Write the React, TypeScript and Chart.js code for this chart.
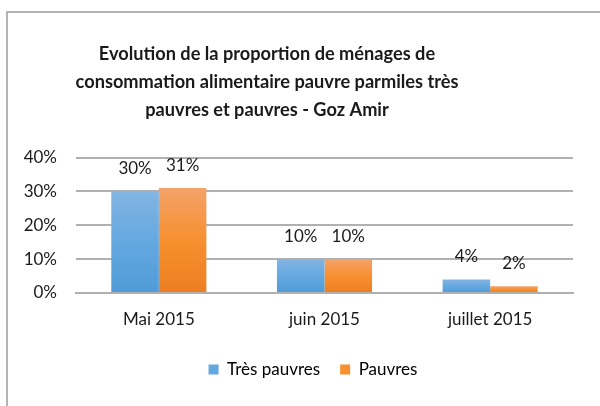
import React, { useEffect, useRef } from "react";
import { Chart, registerables } from "chart.js";

Chart.register(...registerables);

const categories = ["Mai 2015", "juin 2015", "juillet 2015"];
const tresPauvres = [30, 10, 4];
const pauvres = [31, 10, 2];
const yTicks = [0, 10, 20, 30, 40];
const titleLines = [
  "Evolution de la proportion de ménages de",
  "consommation alimentaire pauvre parmiles très",
  "pauvres et pauvres - Goz Amir",
];
const seriesNames = ["Très pauvres", "Pauvres"];

const FONT = "Lato, 'Open Sans', sans-serif";

function makeGradient(ctx: any, top: string, mid: string, bottom: string) {
  const chart = ctx.chart;
  const y = chart.scales?.y;
  if (!y || ctx.raw === undefined) return mid;
  const yTop = y.getPixelForValue(ctx.raw);
  const yBot = y.getPixelForValue(0);
  if (!isFinite(yTop) || !isFinite(yBot) || yTop === yBot) return mid;
  const g = chart.ctx.createLinearGradient(0, yTop, 0, yBot);
  g.addColorStop(0, top);
  g.addColorStop(0.5, mid);
  g.addColorStop(1, bottom);
  return g;
}

const borderPlugin = {
  id: "frame",
  afterLayout(chart: any) {
    if (chart.titleBlock) {
      chart.titleBlock.left = 0;
      chart.titleBlock.right = 534;
    }
    if (chart.legend) {
      chart.legend.left = 26;
      chart.legend.right = 600;
    }
  },
  beforeDraw(chart: any) {
    const c = chart.ctx;
    c.save();
    c.fillStyle = "#ffffff";
    c.fillRect(0, 0, chart.width, chart.height);
    c.strokeStyle = "#b4b4b4";
    c.lineWidth = 2;
    c.beginPath();
    c.moveTo(7, chart.height);
    c.lineTo(7, 12);
    c.lineTo(chart.width, 12);
    c.stroke();
    c.restore();
  },
};

const labelPlugin = {
  id: "valueLabels",
  afterDatasetsDraw(chart: any) {
    const c = chart.ctx;
    c.save();
    c.font = `17px ${FONT}`;
    c.fillStyle = "#1a1a1a";
    c.textAlign = "center";
    c.textBaseline = "middle";
    chart.data.datasets.forEach((ds: any, di: number) => {
      const meta = chart.getDatasetMeta(di);
      meta.data.forEach((bar: any, i: number) => {
        c.fillText(ds.data[i] + "%", bar.x, bar.y - 23);
      });
    });
    c.restore();
  },
};

export default function App() {
  const ref = useRef<HTMLCanvasElement>(null);
  useEffect(() => {
    document.body.style.margin = "0";
    const chart = new Chart(ref.current!, {
      type: "bar",
      data: {
        labels: categories,
        datasets: [
          {
            label: seriesNames[0],
            data: tresPauvres,
            backgroundColor: (ctx: any) => makeGradient(ctx, "#82b5e3", "#65a8e0", "#4f9bd8"),
            borderWidth: 0,
          },
          {
            label: seriesNames[1],
            data: pauvres,
            backgroundColor: (ctx: any) => makeGradient(ctx, "#f4a26a", "#f7902f", "#ec7e21"),
            borderWidth: 0,
          },
        ],
      },
      options: {
        responsive: false,
        animation: false,
        layout: { padding: { left: 0, right: 27, top: 0, bottom: 18 } },
        datasets: { bar: { categoryPercentage: 0.574, barPercentage: 1 } },
        scales: {
          x: {
            grid: { display: false, drawTicks: false },
            border: { display: true, color: "#b0b0b0", width: 2 },
            ticks: { font: { family: FONT, size: 17 }, color: "#1a1a1a", padding: 16 },
            afterFit: (s: any) => { s.height = 48; },
          },
          y: {
            min: 0,
            max: 40,
            afterBuildTicks: (s: any) => { s.ticks = yTicks.map((v) => ({ value: v })); },
            grid: { color: "#b0b0b0", lineWidth: 2, drawTicks: false },
            border: { display: false },
            ticks: {
              font: { family: FONT, size: 17 },
              color: "#1a1a1a",
              padding: 19,
              callback: (v: any) => v + "%",
            },
            afterFit: (s: any) => { s.width = 76; },
          },
        },
        plugins: {
          title: {
            display: true,
            text: titleLines,
            font: { family: FONT, size: 18.2, weight: "bold", lineHeight: 1.55 },
            color: "#1a1a1a",
            padding: { top: 40, bottom: 33 },
          },
          legend: {
            position: "bottom",
            labels: {
              font: { family: FONT, size: 17 },
              color: "#1a1a1a",
              boxWidth: 10,
              boxHeight: 10,
              padding: 20,
              generateLabels: () =>
                seriesNames.map((n, i) => ({
                  text: n,
                  fillStyle: i === 0 ? "#65a8e0" : "#f7902f",
                  strokeStyle: "transparent",
                  lineWidth: 0,
                  datasetIndex: i,
                  hidden: false,
                })),
            },
          },
          tooltip: { enabled: false },
        },
      },
      plugins: [borderPlugin, labelPlugin],
    });
    return () => chart.destroy();
  }, []);
  return <canvas ref={ref} width={600} height={406} style={{ display: "block" }} />;
}
